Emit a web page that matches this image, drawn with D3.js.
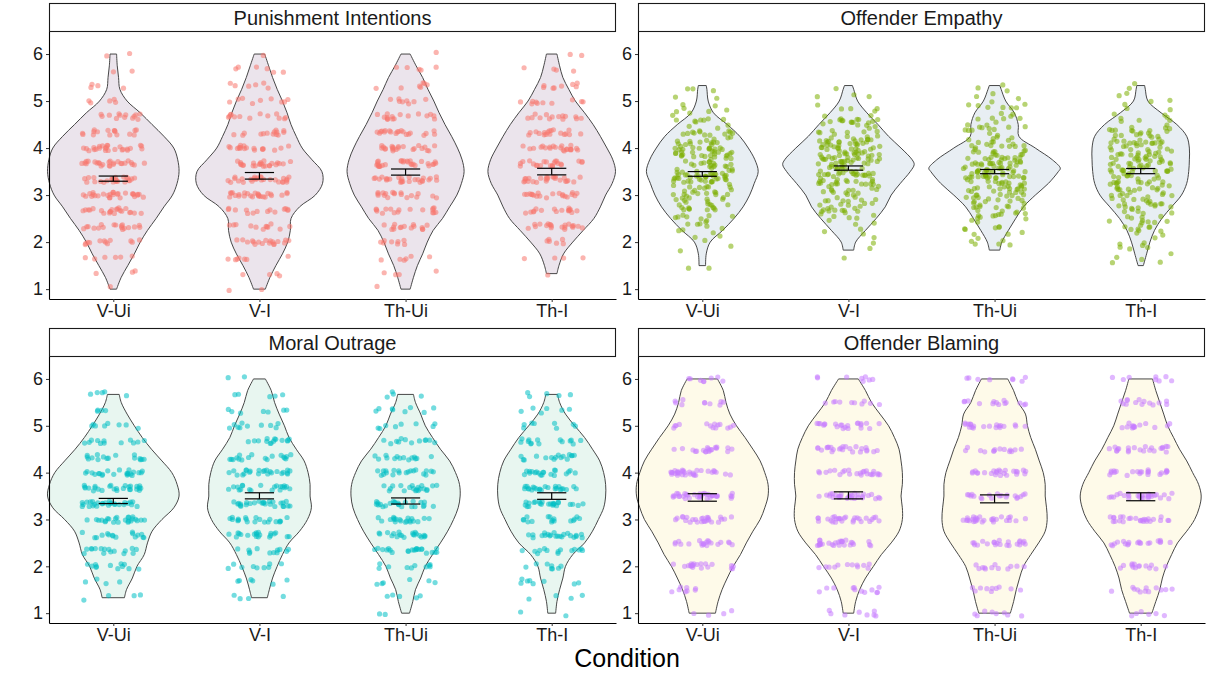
<!DOCTYPE html>
<html>
<head>
<meta charset="utf-8">
<script src="https://cdn.jsdelivr.net/npm/d3@7"></script>
<style>
  body { margin: 0; background: #fff; }
  svg { display: block; }
  text { font-family: "Liberation Sans", Arial, sans-serif; }
</style>
</head>
<body>
<svg id="chart" width="1207" height="682"></svg>
<script>
// categories and facets
const conditions = ["V-Ui", "V-I", "Th-Ui", "Th-I"]
const measures = ["Punishment Intentions", "Offender Empathy", "Moral Outrage", "Offender Blaming"]
const yTicks = [1, 2, 3, 4, 5, 6]

// response levels the scores sit on
const thirds = [1, 1.33, 1.67, 2, 2.33, 2.67, 3, 3.33, 3.67, 4, 4.33, 4.67, 5, 5.33, 5.67, 6]
const halves = [1, 1.5, 2, 2.5, 3, 3.5, 4, 4.5, 5, 5.5, 6]
const empathyBins = [1.5, 1.75, 2, 2.25, 2.5, 2.75, 3, 3.25, 3.5, 3.75, 4, 4.25, 4.5, 4.75, 5, 5.25]

// number of participants at each level, per condition
const punishCounts = [
  [1, 3, 6, 12, 18, 22, 28, 25, 26, 25, 16, 13, 5, 4, 2, 2],
  [2, 4, 7, 18, 12, 14, 26, 28, 24, 18, 14, 13, 9, 6, 6, 1],
  [1, 4, 6, 8, 15, 17, 18, 26, 28, 22, 20, 16, 8, 7, 5, 1],
  [0, 1, 4, 6, 20, 16, 20, 25, 22, 22, 18, 14, 10, 8, 4, 2]
]
const empathyCounts = [
  [2, 1, 3, 6, 12, 16, 20, 26, 30, 24, 28, 20, 10, 6, 4, 3],
  [0, 2, 2, 3, 8, 18, 18, 22, 30, 34, 30, 24, 18, 6, 3, 2],
  [0, 0, 6, 8, 12, 16, 20, 28, 34, 30, 18, 10, 12, 10, 6, 4],
  [2, 4, 6, 10, 12, 16, 18, 22, 24, 28, 24, 20, 10, 6, 4, 3]
]
const outrageCounts = [
  [0, 4, 4, 12, 16, 16, 24, 28, 26, 22, 16, 12, 8, 4, 5, 0],
  [0, 4, 6, 9, 12, 20, 20, 26, 20, 24, 18, 14, 10, 7, 5, 2],
  [2, 5, 6, 10, 22, 20, 20, 24, 20, 20, 14, 12, 8, 8, 4, 0],
  [2, 4, 8, 8, 14, 22, 16, 24, 24, 20, 16, 14, 8, 6, 5, 0]
]
const blamingCounts = [
  [4, 8, 20, 20, 26, 36, 32, 20, 14, 10, 8],
  [8, 12, 12, 28, 28, 30, 24, 24, 22, 10, 8],
  [8, 10, 12, 22, 28, 20, 24, 14, 20, 14, 8],
  [6, 12, 14, 20, 26, 28, 22, 22, 14, 14, 8]
]

// means and standard errors
const punishMeans = [3.35, 3.41, 3.49, 3.50]
const punishSE = [0.055, 0.07, 0.065, 0.07]
const empathyMeans = [3.45, 3.575, 3.50, 3.51]
const empathySE = [0.05, 0.045, 0.045, 0.055]
const outrageMeans = [3.395, 3.505, 3.395, 3.50]
const outrageSE = [0.055, 0.065, 0.065, 0.07]
const blamingMeans = [3.47, 3.515, 3.44, 3.485]
const blamingSE = [0.08, 0.075, 0.085, 0.085]

// violin outlines: [score, relative density]
const punishViolins = [
  [[1,0.05],[1.25,0.12],[1.5,0.22],[1.75,0.32],[2,0.41],[2.25,0.52],[2.5,0.65],[2.75,0.77],[3,0.9],[3.25,0.97],[3.5,1],[3.75,0.98],[4,0.92],[4.25,0.77],[4.5,0.59],[4.75,0.41],[5,0.21],[5.25,0.1],[5.5,0.08],[5.75,0.06],[6,0.05]],
  [[1,0.09],[1.25,0.16],[1.5,0.25],[1.75,0.35],[2,0.43],[2.25,0.47],[2.5,0.48],[2.75,0.61],[3,0.85],[3.25,0.96],[3.5,0.95],[3.75,0.8],[4,0.65],[4.25,0.56],[4.5,0.48],[4.75,0.42],[5,0.35],[5.25,0.27],[5.5,0.2],[5.75,0.14],[6,0.08]],
  [[1,0.07],[1.25,0.12],[1.5,0.18],[1.75,0.26],[2,0.33],[2.25,0.42],[2.5,0.56],[2.75,0.67],[3,0.78],[3.25,0.85],[3.5,0.89],[3.75,0.86],[4,0.79],[4.25,0.7],[4.5,0.6],[4.75,0.51],[5,0.43],[5.25,0.34],[5.5,0.26],[5.75,0.16],[6,0.07]],
  [[1.33,0.08],[1.5,0.11],[1.75,0.18],[2,0.32],[2.25,0.48],[2.5,0.64],[2.75,0.74],[3,0.82],[3.25,0.92],[3.5,0.97],[3.75,0.93],[4,0.84],[4.25,0.74],[4.5,0.63],[4.75,0.5],[5,0.36],[5.25,0.26],[5.5,0.17],[5.75,0.12],[6,0.08]]
]
const empathyViolins = [
  [[1.5,0.05],[1.75,0.06],[2,0.12],[2.25,0.31],[2.5,0.48],[2.75,0.62],[3,0.72],[3.25,0.79],[3.5,0.85],[3.75,0.8],[4,0.7],[4.25,0.57],[4.5,0.38],[4.75,0.17],[5,0.09],[5.25,0.07],[5.33,0.06]],
  [[1.83,0.08],[2,0.11],[2.25,0.26],[2.5,0.42],[2.75,0.56],[3,0.65],[3.25,0.79],[3.5,0.94],[3.65,1],[3.75,0.97],[4,0.8],[4.25,0.61],[4.5,0.45],[4.75,0.28],[5,0.14],[5.25,0.08],[5.33,0.06]],
  [[1.83,0.08],[2,0.11],[2.25,0.21],[2.5,0.32],[2.75,0.44],[3,0.62],[3.25,0.82],[3.5,0.97],[3.57,1],[3.75,0.88],[4,0.62],[4.25,0.37],[4.5,0.36],[4.75,0.3],[5,0.17],[5.25,0.1],[5.33,0.08]],
  [[1.5,0.04],[1.75,0.09],[2,0.14],[2.25,0.21],[2.5,0.32],[2.75,0.47],[3,0.62],[3.25,0.7],[3.5,0.73],[3.75,0.74],[4,0.74],[4.25,0.7],[4.5,0.55],[4.75,0.31],[5,0.11],[5.25,0.07],[5.33,0.06]]
]
const outrageViolins = [
  [[1.33,0.17],[1.5,0.2],[1.75,0.29],[2,0.36],[2.25,0.47],[2.5,0.52],[2.75,0.59],[3,0.74],[3.25,0.92],[3.5,1],[3.75,0.97],[4,0.89],[4.25,0.74],[4.5,0.58],[4.75,0.44],[5,0.32],[5.25,0.21],[5.5,0.12],[5.67,0.09]],
  [[1.33,0.12],[1.5,0.15],[1.75,0.2],[2,0.27],[2.25,0.35],[2.5,0.45],[2.75,0.61],[3,0.73],[3.25,0.79],[3.5,0.77],[3.75,0.77],[4,0.74],[4.25,0.68],[4.5,0.56],[4.75,0.45],[5,0.38],[5.25,0.3],[5.5,0.23],[5.75,0.18],[6,0.09]],
  [[1,0.06],[1.25,0.11],[1.5,0.15],[1.75,0.23],[2,0.3],[2.25,0.41],[2.5,0.53],[2.75,0.64],[3,0.73],[3.25,0.8],[3.5,0.83],[3.75,0.82],[4,0.76],[4.25,0.67],[4.5,0.53],[4.75,0.41],[5,0.3],[5.25,0.23],[5.5,0.15],[5.67,0.12]],
  [[1,0.06],[1.25,0.08],[1.5,0.12],[1.75,0.17],[2,0.21],[2.25,0.32],[2.5,0.5],[2.75,0.62],[3,0.71],[3.25,0.79],[3.5,0.82],[3.75,0.82],[4,0.79],[4.25,0.73],[4.5,0.62],[4.75,0.5],[5,0.35],[5.25,0.21],[5.5,0.12],[5.67,0.09]]
]
const blamingViolins = [
  [[1,0.2],[1.25,0.24],[1.5,0.3],[1.75,0.38],[2,0.47],[2.25,0.58],[2.5,0.67],[2.75,0.77],[3,0.88],[3.25,0.95],[3.5,1],[3.75,1],[4,0.95],[4.25,0.88],[4.5,0.77],[4.75,0.65],[5,0.52],[5.25,0.42],[5.5,0.36],[5.75,0.32],[6,0.23]],
  [[1,0.08],[1.25,0.11],[1.5,0.17],[1.75,0.26],[2,0.38],[2.25,0.5],[2.5,0.65],[2.75,0.77],[3,0.82],[3.25,0.82],[3.5,0.8],[3.75,0.82],[4,0.82],[4.25,0.8],[4.5,0.77],[4.75,0.7],[5,0.61],[5.25,0.48],[5.5,0.35],[5.75,0.26],[6,0.15]],
  [[1,0.24],[1.25,0.29],[1.5,0.33],[1.75,0.38],[2,0.44],[2.25,0.55],[2.5,0.67],[2.75,0.77],[3,0.8],[3.25,0.79],[3.5,0.77],[3.75,0.77],[4,0.74],[4.25,0.68],[4.5,0.62],[4.75,0.55],[5,0.5],[5.25,0.47],[5.5,0.36],[5.75,0.29],[6,0.2]],
  [[1,0.17],[1.25,0.23],[1.5,0.29],[1.75,0.33],[2,0.39],[2.25,0.47],[2.5,0.56],[2.75,0.7],[3,0.82],[3.25,0.89],[3.5,0.92],[3.75,0.88],[4,0.79],[4.25,0.7],[4.5,0.59],[4.75,0.5],[5,0.41],[5.25,0.35],[5.5,0.29],[5.75,0.23],[6,0.18]]
]

const svg = d3.select("#chart")

// facet layout
const colLeft = [49, 638], colRight = [616, 1205]
const stripTop = [3, 328], stripH = 28
const plotBottom = [299, 623]

const panels = [
  {name: measures[0], col: 0, row: 0, violins: punishViolins, levels: thirds, counts: punishCounts, means: punishMeans, se: punishSE, color: "#F8766D", fill: "#EBE4EC", yJit: 0.06},
  {name: measures[1], col: 1, row: 0, violins: empathyViolins, levels: empathyBins, counts: empathyCounts, means: empathyMeans, se: empathySE, color: "#7CAE00", fill: "#E8EEF3", yJit: 0.125},
  {name: measures[2], col: 0, row: 1, violins: outrageViolins, levels: thirds, counts: outrageCounts, means: outrageMeans, se: outrageSE, color: "#00BFC4", fill: "#E8F6F0", yJit: 0.06},
  {name: measures[3], col: 1, row: 1, violins: blamingViolins, levels: halves, counts: blamingCounts, means: blamingMeans, se: blamingSE, color: "#C77CFF", fill: "#FEFAE9", yJit: 0.06}
]

// deterministic jitter offset in [-1, 1] (position only, not data)
const jit = s => {
  const v = Math.sin(s * 127.1 + 311.7) * 43758.5453
  return (v - Math.floor(v)) * 2 - 1
}

panels.forEach((p, pi) => {
  const top = stripTop[p.row] + stripH
  const bottom = plotBottom[p.row]
  const left = colLeft[p.col], right = colRight[p.col]

  const x = d3.scalePoint()
    .domain(conditions)
    .range([left, right])
    .padding(0.44)

  const y = d3.scaleLinear()
    .domain([0.79, 6.49])
    .range([bottom, top])

  const w = d3.scaleLinear()
    .domain([0, 1])
    .range([0, x.step() * 0.45])

  const g = svg.append("g")

  // violins
  conditions.forEach((c, i) => {
    const cx = x(c)
    g.append("path")
      .datum(p.violins[i])
      .attr("fill", p.fill)
      .attr("stroke", "#333")
      .attr("stroke-width", 0.9)
      .attr("d", d3.area()
        .curve(d3.curveCatmullRom)
        .y(d => y(d[0]))
        .x0(d => cx - w(d[1]))
        .x1(d => cx + w(d[1])))
  })

  // jittered points
  conditions.forEach((c, i) => {
    const cx = x(c)
    const pts = []
    let n = 0
    p.levels.forEach((lv, k) => {
      for (let j = 0; j < p.counts[i][k]; j++) {
        n++
        const seed = pi * 5000 + i * 1000 + n
        pts.push({
          x: cx + jit(seed * 1.37 + 0.5) * x.step() * 0.215,
          v: lv + jit(seed * 2.71 + 7.3) * p.yJit
        })
      }
    })
    g.selectAll(null)
      .data(pts)
      .enter()
      .append("circle")
        .attr("cx", d => d.x)
        .attr("cy", d => y(d.v))
        .attr("r", 2.6)
        .attr("fill", p.color)
        .attr("opacity", 0.55)
  })

  // error bars: mean +/- se
  conditions.forEach((c, i) => {
    const cx = x(c)
    const hi = y(p.means[i] + p.se[i]), lo = y(p.means[i] - p.se[i])
    const cap = x.step() * 0.1
    const eb = g.append("g").attr("stroke", "#000").attr("stroke-width", 1.2)
    eb.append("line").attr("x1", cx).attr("x2", cx).attr("y1", hi).attr("y2", lo)
    eb.append("line").attr("x1", cx - cap).attr("x2", cx + cap).attr("y1", hi).attr("y2", hi)
    eb.append("line").attr("x1", cx - cap).attr("x2", cx + cap).attr("y1", lo).attr("y2", lo)
  })

  // axes
  const yAxis = svg.append("g")
    .attr("transform", "translate(" + left + ",0)")
    .call(d3.axisLeft(y).tickValues(yTicks).tickFormat(d3.format("d")).tickSize(3).tickSizeOuter(0).tickPadding(3))
  const xAxis = svg.append("g")
    .attr("transform", "translate(0," + bottom + ")")
    .call(d3.axisBottom(x).tickSize(3).tickSizeOuter(0).tickPadding(2))

  ;[yAxis, xAxis].forEach(a => {
    a.select(".domain").attr("stroke", "#000").attr("stroke-width", 1.1)
    a.selectAll(".tick line").attr("stroke", "#333")
    a.selectAll("text")
      .attr("font-size", 18)
      .attr("fill", "#1a1a1a")
      .style("font-family", "'Liberation Sans', Arial, sans-serif")
  })

  // facet strip
  svg.append("rect")
    .attr("x", left + 0.5)
    .attr("y", stripTop[p.row] + 0.5)
    .attr("width", right - left - 1)
    .attr("height", stripH)
    .attr("fill", "#fff")
    .attr("stroke", "#1a1a1a")
    .attr("stroke-width", 1.1)
  svg.append("text")
    .attr("x", (left + right) / 2)
    .attr("y", stripTop[p.row] + stripH / 2 + 1)
    .attr("text-anchor", "middle")
    .attr("dominant-baseline", "central")
    .attr("font-size", 20)
    .attr("fill", "#1a1a1a")
    .text(p.name)
})

// shared x axis title
svg.append("text")
  .attr("x", (colLeft[0] + colRight[1]) / 2)
  .attr("y", 667)
  .attr("text-anchor", "middle")
  .attr("font-size", 25)
  .attr("fill", "#000")
  .text("Condition")
</script>
</body>
</html>
